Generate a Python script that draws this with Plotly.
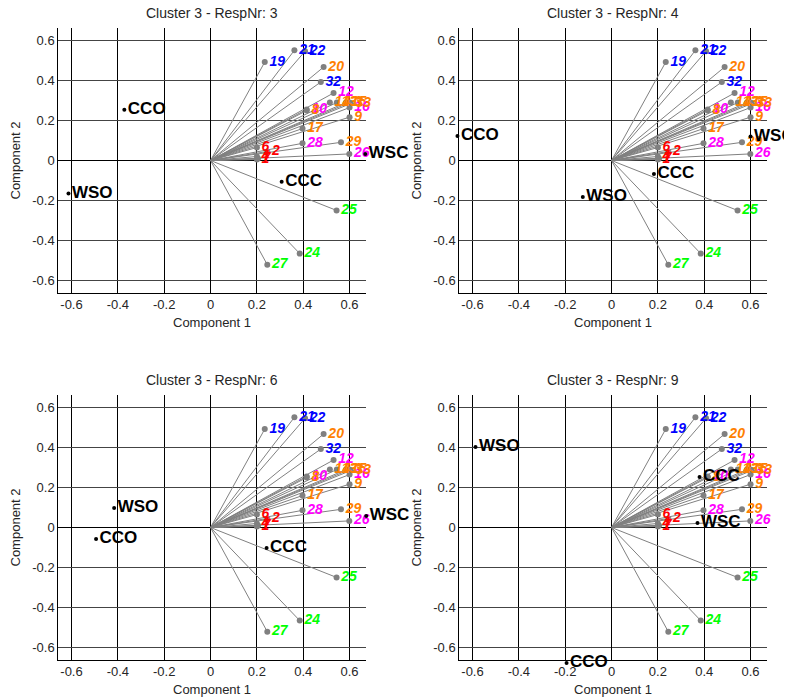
import plotly.graph_objects as go

# ---------------- data ----------------
load_labels = ["19", "21", "22", "32", "20", "12", "10", "8", "14", "13", "15", "16", "33", "3",
               "9", "17", "28", "29", "26", "6", "2", "4", "1", "7", "25", "24", "27"]
load_colors = ["#0000FF", "#0000FF", "#0000FF", "#0000FF", "#FF8000", "#FF00FF", "#FF00FF", "#FF8000",
               "#FF8000", "#FF8000", "#FF8000", "#FF00FF", "#FF8000", "#FF8000",
               "#FF8000", "#FF8000", "#FF00FF", "#FF8000", "#FF00FF",
               "#FF0000", "#FF0000", "#FF0000", "#FF0000", "#FF0000",
               "#00FF00", "#00FF00", "#00FF00"]
load_x = [0.234, 0.362, 0.408, 0.476, 0.488, 0.531, 0.415, 0.415, 0.515, 0.545, 0.585, 0.600, 0.605, 0.600,
          0.600, 0.397, 0.397, 0.563, 0.599, 0.200, 0.245, 0.200, 0.200, 0.205, 0.544, 0.385, 0.245]
load_y = [0.493, 0.552, 0.547, 0.393, 0.468, 0.338, 0.256, 0.250, 0.290, 0.290, 0.290, 0.265, 0.285, 0.290,
          0.217, 0.160, 0.086, 0.091, 0.033, 0.065, 0.045, 0.020, 0.005, 0.010, -0.250, -0.466, -0.522]

resp_ids = [3, 4, 6, 9]
score_labels = ["CCC", "CCO", "WSC", "WSO"]
scores_x = {
    3: [0.307, -0.372, 0.668, -0.613],
    4: [0.183, -0.665, 0.600, -0.124],
    6: [0.242, -0.494, 0.672, -0.416],
    9: [0.380, -0.194, 0.371, -0.587],
}
scores_y = {
    3: [-0.107, 0.254, 0.033, -0.165],
    4: [-0.068, 0.123, 0.120, -0.183],
    6: [-0.103, -0.058, 0.058, 0.098],
    9: [0.253, -0.679, 0.023, 0.403],
}

tick_vals = [-0.6, -0.4, -0.2, 0, 0.2, 0.4, 0.6]
tick_text = ["-0.6", "-0.4", "-0.2", "0", "0.2", "0.4", "0.6"]

# ---------------- layout geometry ----------------
W, H = 792, 699
OFF = 8  # page body margin in the browser


def px_x(px):
    return (px - OFF) / W


def px_y(py):
    return 1 - (py - OFF) / H


x_px = [[58.3, 366.0], [459.3, 767.0]]
y_px = [[292.7, 27.7], [659.7, 394.7]]
x_range = [-0.657, 0.671]
y_range = [-0.662, 0.665]
PAD = 15  # extra pixels for the invisible score-label axes
FONT = "Liberation Sans, Arial, sans-serif"

fig = go.Figure()
annotations = []

for i, rid in enumerate(resp_ids):
    row, col = divmod(i, 2)
    ax = "" if i == 0 else str(i + 1)
    xref, yref = "x" + ax, "y" + ax
    ax2 = str(i + 5)
    xref2, yref2 = "x" + ax2, "y" + ax2

    # vectors from origin
    lx, ly = [], []
    for x, y in zip(load_x, load_y):
        lx += [0, x, None]
        ly += [0, y, None]
    fig.add_trace(go.Scatter(x=lx, y=ly, mode="lines", xaxis=xref, yaxis=yref,
                             line=dict(color="#808080", width=1), hoverinfo="skip",
                             showlegend=False))
    fig.add_trace(go.Scatter(x=load_x, y=load_y, mode="markers+text", xaxis=xref, yaxis=yref,
                             marker=dict(color="#808080", size=6),
                             text=load_labels, textposition="middle right",
                             textfont=dict(family=FONT, size=14, color=load_colors,
                                           weight="bold", style="italic"),
                             cliponaxis=False, showlegend=False))
    fig.add_trace(go.Scatter(x=scores_x[rid], y=scores_y[rid], mode="markers+text",
                             xaxis=xref2, yaxis=yref2,
                             marker=dict(color="black", size=4),
                             text=score_labels, textposition="middle right",
                             textfont=dict(family=FONT, size=17, color="black", weight="bold"),
                             cliponaxis=False, showlegend=False))

    (xl, xr), (yb, yt) = x_px[col], y_px[row]
    xd = [px_x(xl), px_x(xr)]
    yd = [px_y(yb), px_y(yt)]
    axis_common = dict(tickvals=tick_vals, ticktext=tick_text, showgrid=True,
                       zeroline=True, zerolinecolor="black", zerolinewidth=1,
                       showline=True, linecolor="black", linewidth=1, mirror=False,
                       automargin=False,
                       ticks="", tickfont=dict(family=FONT, size=13, color="#262626"))
    fig.layout["xaxis" + ax] = dict(domain=xd, range=x_range, anchor=yref,
                                    gridcolor="black", gridwidth=1, **axis_common)
    fig.layout["yaxis" + ax] = dict(domain=yd, range=y_range, anchor=xref,
                                    gridcolor="#444444", gridwidth=1, **axis_common)

    # invisible axes with the same scale but a slightly larger area, for the score labels
    sx = (xr - xl) / (x_range[1] - x_range[0])
    sy = (yb - yt) / (y_range[1] - y_range[0])
    fig.layout["xaxis" + ax2] = dict(domain=[px_x(xl - PAD), px_x(xr + PAD)],
                                     range=[x_range[0] - PAD / sx, x_range[1] + PAD / sx],
                                     anchor=yref2, visible=False, automargin=False)
    fig.layout["yaxis" + ax2] = dict(domain=[px_y(yb + PAD), px_y(yt - PAD)],
                                     range=[y_range[0] - PAD / sy, y_range[1] + PAD / sy],
                                     anchor=xref2, visible=False, automargin=False)

    xc = (xd[0] + xd[1]) / 2
    annotations.append(dict(text=f"Cluster 3 - RespNr: {rid}", x=xc, y=yd[1] + 15 / H,
                            xref="paper", yref="paper", showarrow=False,
                            xanchor="center", yanchor="middle",
                            font=dict(family=FONT, size=14, color="#262626")))
    annotations.append(dict(text="Component 1", x=xc, y=yd[0] - 30 / H,
                            xref="paper", yref="paper", showarrow=False,
                            xanchor="center", yanchor="middle",
                            font=dict(family=FONT, size=13, color="#262626")))
    annotations.append(dict(text="Component 2", x=xd[0] - 43 / W, y=(yd[0] + yd[1]) / 2,
                            xref="paper", yref="paper", showarrow=False, textangle=-90,
                            xanchor="center", yanchor="middle",
                            font=dict(family=FONT, size=13, color="#262626")))

fig.update_layout(width=W, height=H, margin=dict(l=0, r=0, t=0, b=0, autoexpand=False),
                  paper_bgcolor="white", plot_bgcolor="rgba(0,0,0,0)",
                  annotations=annotations, showlegend=False)

fig.write_html("out.html")
